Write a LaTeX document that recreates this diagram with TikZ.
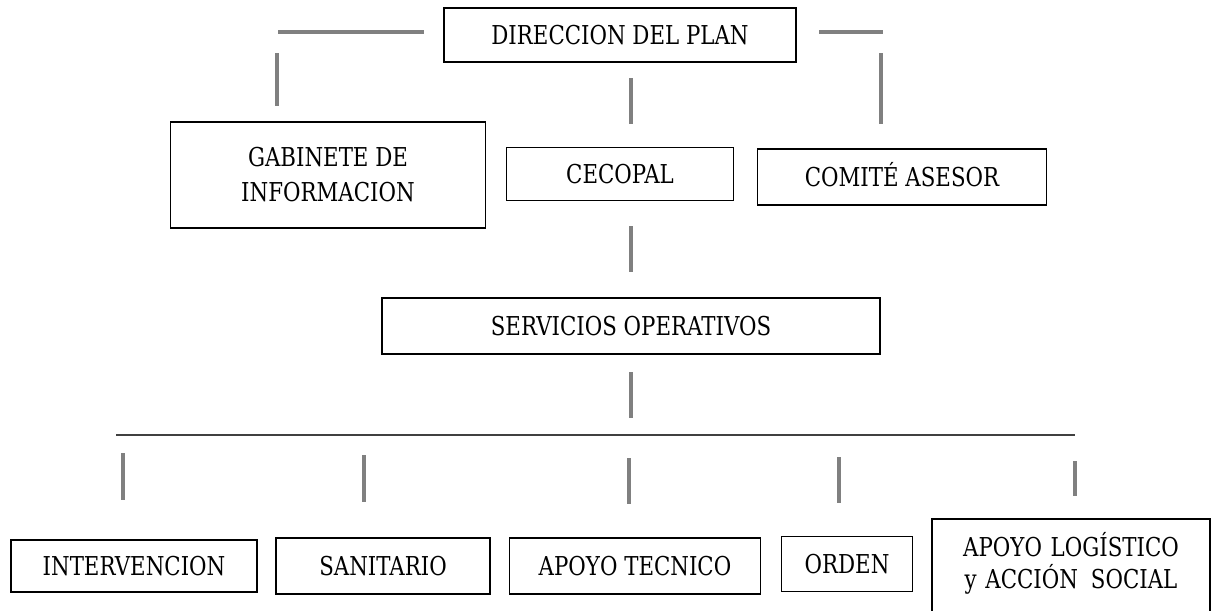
\documentclass[tikz,border=0pt]{standalone}
\usepackage{fontspec}
\setmainfont{DejaVu Serif}[FakeStretch=0.82]
\usepackage{tikz}
\usetikzlibrary{positioning,calc}

\begin{document}
\begin{tikzpicture}[x=0.02cm,y=-0.02cm,
  box/.style={draw,line width=0.9pt,inner sep=0pt,
    font=\fontsize{14.8}{19.9}\selectfont},
  single/.style={box,text height=10.8pt,text depth=0pt},
  link/.style={draw=gray,line width=2pt},
  bus/.style={draw=black!75,line width=1.3pt}]

  \useasboundingbox (0,0) rectangle (1211,610);

  % upper level
  \node[single,minimum width=7.04cm,minimum height=1.08cm] (dir) at (620,35) {DIRECCION DEL PLAN};
  \node[box,align=center,minimum width=6.30cm,minimum height=2.12cm] (gabinete) at (328,175) {GABINETE DE\\INFORMACION};
  \node[single,minimum width=4.54cm,minimum height=1.06cm] (cecopal) at (620,174) {CECOPAL};
  \node[single,minimum width=5.78cm,minimum height=1.12cm] (comite) at (902,177) {COMITÉ ASESOR};
  \node[single,minimum width=9.96cm,minimum height=1.12cm] (servicios) at (631,326) {SERVICIOS OPERATIVOS};

  % lower level
  \node[single,minimum width=4.92cm,minimum height=1.04cm] (intervencion) at (134,566) {INTERVENCION};
  \node[single,minimum width=4.28cm,minimum height=1.12cm] (sanitario) at (383,566) {SANITARIO};
  \node[single,minimum width=5.02cm,minimum height=1.12cm] (tecnico) at (635,566) {APOYO TECNICO};
  \node[single,minimum width=2.62cm,minimum height=1.10cm] (orden) at (847,564) {ORDEN};
  \node[box,anchor=north,align=center,text width=5.3cm,minimum width=5.56cm,
    text height=11pt,text depth=80pt,inner ysep=10.6pt,
    font=\fontsize{14.8}{18}\selectfont] (logistico) at (1071,518)
    {APOYO LOGÍSTICO\\y ACCIÓN\enspace SOCIAL};

  % rails and ticks
  \coordinate (railL) at (278,32);  \coordinate (railLend) at (424,32);
  \coordinate (railR) at (819,32);  \coordinate (railRend) at (883,32);
  \coordinate (busL) at (116,435);  \coordinate (busR) at (1075,435);
  \draw[link] (railL) -- (railLend);
  \draw[link] (railR) -- (railRend);
  \draw[bus] (busL) -- (busR);

  \foreach \x/\a/\b [count=\i] in {277/53/106, 631/78/124, 881/53/124,
      631/226/272, 631/372/418}
  {
    \coordinate (up\i a) at (\x,\a);
    \coordinate (up\i b) at (\x,\b);
    \draw[link] (up\i a) -- (up\i b);
  }
  \foreach \x/\a/\b [count=\i] in {123/453/500, 364/455/502, 629/458/504,
      839/457/503, 1075/461/496}
  {
    \coordinate (drop\i a) at (\x,\a);
    \coordinate (drop\i b) at (\x,\b);
    \draw[link] (drop\i a) -- (drop\i b);
  }
\end{tikzpicture}
\end{document}
